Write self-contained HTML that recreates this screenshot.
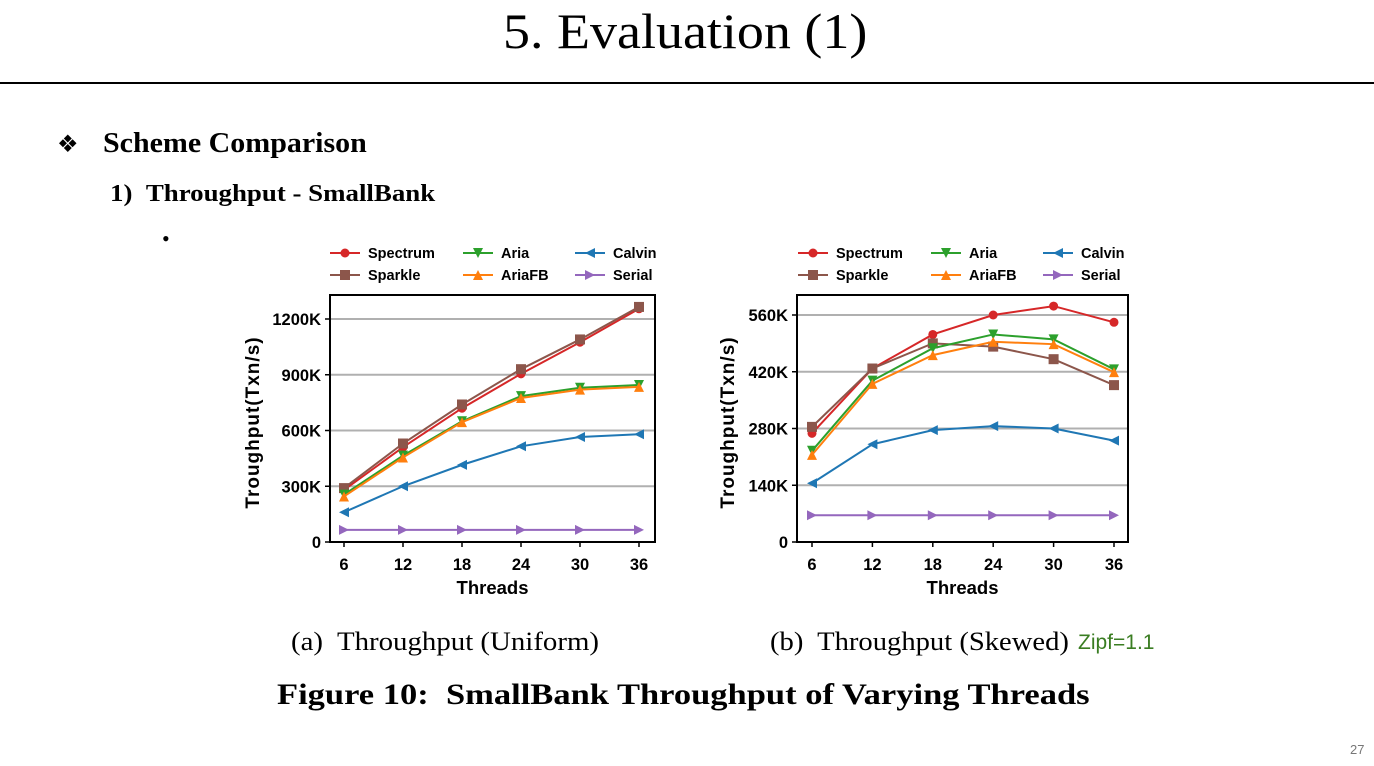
<!DOCTYPE html>
<html><head><meta charset="utf-8"><style>
body{margin:0;width:1374px;height:766px;background:#fff;overflow:hidden;position:relative;font-family:"Liberation Serif",serif}
.abs{position:absolute;white-space:nowrap;transform-origin:0 0}
</style></head><body>
<div class="abs" style="left:503px;top:2px;font-size:50px;transform:scaleX(1.08)">5. Evaluation (1)</div>
<div class="abs" style="left:0;top:82px;width:1374px;height:2px;background:#000"></div>
<div class="abs" style="left:57px;top:130px;font-size:24px;">❖</div>
<div class="abs" style="left:103px;top:128px;font-size:28px;font-weight:bold;transform:scaleX(1.07)">Scheme Comparison</div>
<div class="abs" style="left:110px;top:181px;font-size:24px;font-weight:bold;transform:scaleX(1.12)">1)&nbsp;&nbsp;Throughput - SmallBank</div>
<div class="abs" style="left:162px;top:226px;font-size:22px;">•</div>
<svg id="chart" class="abs" style="left:0;top:0" width="1374" height="766"></svg>
<div class="abs" style="left:291px;top:627px;font-size:26px;transform:scaleX(1.11)">(a)&nbsp; Throughput (Uniform)</div>
<div class="abs" style="left:770px;top:627px;font-size:26px;transform:scaleX(1.1)">(b)&nbsp; Throughput (Skewed)</div>
<div class="abs" style="left:1078px;top:631px;font-family:'Liberation Sans',sans-serif;color:#3a7d22;font-size:21px">Zipf=1.1</div>
<div class="abs" style="left:277px;top:678px;font-size:30px;font-weight:bold;transform:scaleX(1.15)">Figure 10:&nbsp; SmallBank Throughput of Varying Threads</div>
<div class="abs" style="left:1350px;top:742px;font-size:13px;color:#777;font-family:'Liberation Sans',sans-serif">27</div>
<script>
const threads=[6,12,18,24,30,36];
const seriesNames=["Spectrum","Sparkle","Aria","AriaFB","Calvin","Serial"];
const colors=["#d62728","#8c564b","#2ca02c","#ff7f0e","#1f77b4","#9467bd"];
const markers=["circle","square","down","up","left","right"];
const ticksA=[0,300,600,900,1200];
const tickLabelsA=["0","300K","600K","900K","1200K"];
const ticksB=[0,140,280,420,560];
const tickLabelsB=["0","140K","280K","420K","560K"];
const spectrumA=[280,510,720,905,1075,1255];
const sparkleA=[290,530,740,930,1090,1265];
const ariaA=[255,465,650,785,830,845];
const ariaFBA=[245,455,645,775,820,835];
const calvinA=[160,300,415,515,565,580];
const serialA=[65,65,65,65,65,65];
const spectrumB=[268,428,512,560,582,542];
const sparkleB=[284,428,490,482,451,387];
const ariaB=[225,398,478,512,500,426];
const ariaFBB=[215,390,461,494,488,419];
const calvinB=[145,241,276,286,280,250];
const serialB=[66,66,66,66,66,66];
const NS="http://www.w3.org/2000/svg";
const svg=document.getElementById('chart');
function mk(tag,attrs,parent){const e=document.createElementNS(NS,tag);for(const k in attrs)e.setAttribute(k,attrs[k]);(parent||svg).appendChild(e);return e;}
function marker(g,type,x,y,c){
  const s=5;let e;
  if(type==="circle")e=mk('circle',{cx:x,cy:y,r:4.5,fill:c},g);
  else if(type==="square")e=mk('rect',{x:x-s,y:y-s,width:2*s,height:2*s,fill:c},g);
  else{let p;
    if(type==="down")p=[[x-s,y-s],[x+s,y-s],[x,y+s]];
    if(type==="up")p=[[x-s,y+s],[x+s,y+s],[x,y-s]];
    if(type==="left")p=[[x+s,y-s],[x+s,y+s],[x-s,y]];
    if(type==="right")p=[[x-s,y-s],[x-s,y+s],[x+s,y]];
    e=mk('polygon',{points:p.map(q=>q.join(',')).join(' '),fill:c},g);}
  
  
}
function drawChart(cfg){
  const g=mk('g',{'font-family':'"Liberation Sans",sans-serif','font-weight':'bold'});
  
  
  const ymax=cfg.ticks[cfg.ticks.length-1];
  const ys=v=>cfg.bottom-(v/ymax)*(cfg.bottom-cfg.y1200);
  const xs=t=>cfg.x0+(t-threads[0])/(threads[threads.length-1]-threads[0])*(cfg.x1-cfg.x0);
  cfg.ticks.forEach((t,i)=>{
    const y=ys(t);
    if(t>0){const gl=mk('line',{x1:cfg.left,x2:cfg.right,y1:y,y2:y,stroke:'#b0b0b0','stroke-width':2},g);
      }
    mk('line',{x1:cfg.left-5,x2:cfg.left,y1:y,y2:y,stroke:'#000','stroke-width':1.5},g);
    const tx=mk('text',{x:cfg.left-9,y:y+6,'text-anchor':'end','font-size':16.5},g);
    tx.textContent=cfg.labels[i];
    
  });
  threads.forEach(t=>{
    const x=xs(t);
    mk('line',{x1:x,x2:x,y1:cfg.bottom,y2:cfg.bottom+5,stroke:'#000','stroke-width':1.5},g);
    const tx=mk('text',{x:x,y:cfg.bottom+28,'text-anchor':'middle','font-size':16.5},g);
    tx.textContent=t;
    
  });
  cfg.data.forEach((arr,si)=>{
    const sg=mk('g',{},g);
    
    
    mk('polyline',{points:arr.map((v,i)=>xs(threads[i])+','+ys(v)).join(' '),fill:'none',stroke:colors[si],'stroke-width':2},sg);
    arr.forEach((v,i)=>marker(sg,markers[si],xs(threads[i]),ys(v),colors[si]));
  });
  const fr=mk('rect',{x:cfg.left,y:cfg.top,width:cfg.right-cfg.left,height:cfg.bottom-cfg.top,fill:'none',stroke:'#000','stroke-width':2},g);
  
  const xt=mk('text',{x:(cfg.left+cfg.right)/2,y:cfg.bottom+52,'text-anchor':'middle','font-size':18.5},g);
  xt.textContent='Threads';
  const cy=(cfg.top+cfg.bottom)/2+4;
  const yt=mk('text',{x:cfg.ytx,y:cy,'text-anchor':'middle','font-size':19,'letter-spacing':1,transform:`rotate(-90 ${cfg.ytx} ${cy})`},g);
  yt.textContent='Troughput(Txn/s)';
  const cols=[cfg.legX,cfg.legX+133,cfg.legX+245];
  [[0,0],[1,0],[2,1],[3,1],[4,2],[5,2]].forEach(([si,c],k)=>{
    const lx=cols[c],ly=253+(si%2)*22;
    const lg=mk('g',{},g);
    
    mk('line',{x1:lx,x2:lx+30,y1:ly,y2:ly,stroke:colors[si],'stroke-width':2},lg);
    marker(lg,markers[si],lx+15,ly,colors[si]);
    const t=mk('text',{x:lx+38,y:ly+5,'font-size':14.5},lg);t.textContent=seriesNames[si];
  });
}
drawChart({name:'chart-uniform',left:330,right:655,top:295,bottom:542,y1200:319,x0:344,x1:639,ticks:ticksA,labels:tickLabelsA,ytx:259,legX:330,
  data:[spectrumA,sparkleA,ariaA,ariaFBA,calvinA,serialA]});
drawChart({name:'chart-skewed',left:797,right:1128,top:295,bottom:542,y1200:315,x0:812,x1:1114,ticks:ticksB,labels:tickLabelsB,ytx:734,legX:798,
  data:[spectrumB,sparkleB,ariaB,ariaFBB,calvinB,serialB]});
</script>
</body></html>
